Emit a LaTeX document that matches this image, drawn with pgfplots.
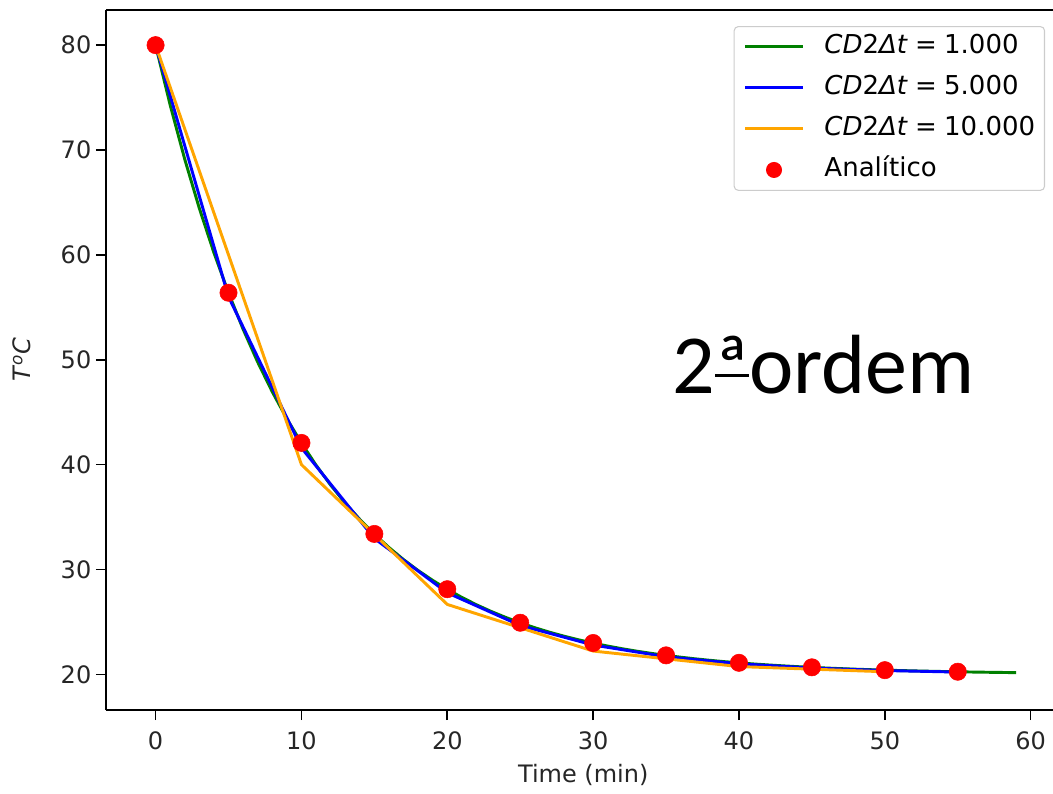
\documentclass[border=0pt]{standalone}
\usepackage{fontspec}
\setmainfont{DejaVu Sans}
\newfontfamily\calib{Carlito}
\usepackage{pgfplots}
\usepackage{pgfplotstable}
\pgfplotsset{compat=1.18}

\definecolor{mplgreen}{RGB}{0,128,0}
\definecolor{mplblue}{RGB}{0,0,255}
\definecolor{mplorange}{RGB}{255,165,0}
\definecolor{mplred}{RGB}{255,0,0}

\newsavebox\ordbox

% CD2, dt = 1
\pgfplotstableread{
t T
0 80.0000
1 74.2857
2 69.1156
3 64.4380
4 60.2058
5 56.3767
6 52.9122
7 49.7777
8 46.9417
9 44.3758
10 42.0543
11 39.9539
12 38.0535
13 36.3341
14 34.7785
15 33.3710
16 32.0976
17 30.9454
18 29.9030
19 28.9599
20 28.1065
21 27.3345
22 26.6360
23 26.0040
24 25.4322
25 24.9148
26 24.4467
27 24.0232
28 23.6401
29 23.2934
30 22.9798
31 22.6960
32 22.4392
33 22.2069
34 21.9967
35 21.8066
36 21.6345
37 21.4789
38 21.3380
39 21.2106
40 21.0953
41 20.9910
42 20.8966
43 20.8112
44 20.7340
45 20.6641
46 20.6008
47 20.5436
48 20.4918
49 20.4450
50 20.4026
51 20.3643
52 20.3296
53 20.2982
54 20.2698
55 20.2441
56 20.2209
57 20.1998
58 20.1808
59 20.1636
}\cdone

% CD2, dt = 5
\pgfplotstableread{
t T
0 80.000
5 56.000
10 41.600
15 32.960
20 27.776
25 24.666
30 22.799
35 21.680
40 21.008
45 20.605
50 20.363
55 20.218
}\cdfive

% CD2, dt = 10
\pgfplotstableread{
t T
0 80.000
10 40.000
20 26.667
30 22.222
40 20.741
50 20.247
}\cdten

% analytic solution
\pgfplotstableread{
t T
0 80.00
5 56.39
10 42.07
15 33.39
20 28.12
25 24.92
30 22.99
35 21.81
40 21.10
45 20.67
50 20.40
55 20.25
}\analit

\begin{document}
\begin{tikzpicture}
\begin{axis}[
    name=ax,
    scale only axis,
    width=710.25pt, height=525pt,
    xmin=-3.40, xmax=61.53, ymin=16.6, ymax=83.35,
    axis x line=box, axis y line=left,
    x axis line style={-}, y axis line style={-},
    axis line style={line width=1.2pt, black},
    xtick={0,10,...,60}, ytick={20,30,...,80},
    xtick pos=bottom, ytick pos=left,
    tick align=outside, major tick length=7.5pt,
    tick style={line width=1.2pt, black},
    minor tick num=0,
    /pgf/number format/assume math mode=true,
    ticklabel style={font=\fontsize{18}{21}\selectfont, text=black!85},
    xticklabel style={yshift=-5pt},
    xlabel={Time (min)},
    ylabel={\textit{T}\textsuperscript{\textit{o}}\textit{C}},
    every axis x label/.style={at={(axis description cs:0.504,0)}, anchor=center,
      yshift=-48.75pt, font=\fontsize{18}{21}\selectfont, text=black!85},
    every axis y label/.style={at={(axis description cs:-0.0887,0.5)}, anchor=center,
      rotate=90, font=\fontsize{18}{21}\selectfont, text=black!85},
    legend image code/.code={%
      \path[draw=none, fill=none] (0pt,0pt) -- (43.5pt,0pt);
      \draw[mark repeat=2,mark phase=2,#1] plot coordinates {(0pt,0pt) (21.75pt,0pt) (43.5pt,0pt)};},
    legend cell align=left,
    legend style={
      at={(0.9916,0.977)}, anchor=north east,
      draw=black!20, line width=0.8pt, rounded corners=3pt,
      fill=white, fill opacity=0.8, text opacity=1,
      font=\fontsize{19.5}{23}\selectfont,
      inner xsep=7pt, inner ysep=6pt,
      row sep=12.25pt, column sep=15pt,
      nodes={inner sep=0pt, text height=14.5pt, text depth=4pt},
    },
  ]
  \addplot[forget plot, only marks, mark=*, mark size=6.5pt, color=mplred]
    table[x=t, y=T] {\analit};

  \addplot[no marks, mplgreen, line width=2.2pt] table[x=t, y=T] {\cdone};
  \addlegendentry{\textit{CD}2\textit{Δt}\;=\;1.000}
  \addplot[no marks, mplblue, line width=2.2pt] table[x=t, y=T] {\cdfive};
  \addlegendentry{\textit{CD}2\textit{Δt}\;=\;5.000}
  \addplot[no marks, mplorange, line width=2.2pt] table[x=t, y=T] {\cdten};
  \addlegendentry{\textit{CD}2\textit{Δt}\;=\;10.000}
  \addlegendimage{only marks, mark=*, mark size=5.6pt, color=mplred,
    mark options={fill opacity=1, draw opacity=1}}
  \addlegendentry{Analítico}

  \node[font=\calib\fontsize{63}{70}\selectfont, anchor=base] at (axis cs:45.8,46.8)
    {2\sbox\ordbox{ª}\rlap{\raisebox{0.19em}{\rule{\wd\ordbox}{0.04em}}}\usebox\ordbox ordem};
\end{axis}
\pgfresetboundingbox
\path ([xshift=-79.5pt,yshift=-62.25pt]ax.south west) rectangle ([yshift=7.5pt]ax.north east);
\end{tikzpicture}
\end{document}
